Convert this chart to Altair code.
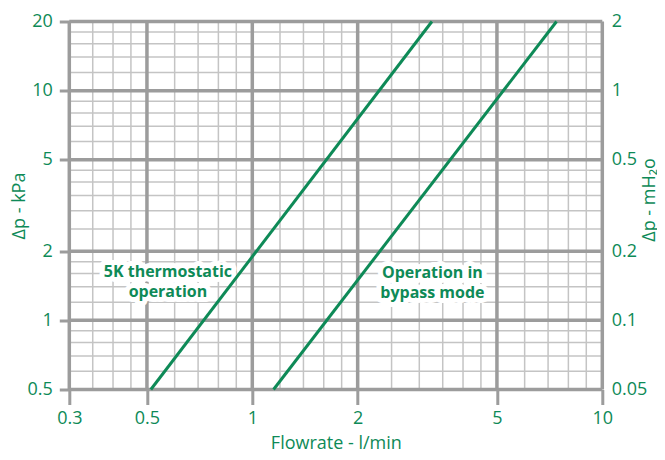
import altair as alt
import pandas as pd

GREEN = "#0e8a57"
MAJOR = "#9c9c9c"
MINOR = "#c4c4c4"
FONT = "Open Sans"

# Grid / tick values
x_major = [0.3, 0.5, 1, 2, 5, 10]
x_minor = [0.35, 0.4, 0.45, 0.6, 0.7, 0.8, 0.9, 1.2, 1.4, 1.6, 1.8,
           2.5, 3, 3.5, 4, 4.5, 6, 7, 8, 9]
y_major_kpa = [0.5, 1, 2, 5, 10, 20]
y_minor_kpa = [0.6, 0.7, 0.8, 0.9, 1.2, 1.4, 1.6, 1.8, 2.5, 3, 3.5, 4, 4.5,
               6, 7, 8, 9, 12, 14, 16, 18]
y_ticks_mh2o = [0.05, 0.1, 0.2, 0.5, 1, 2]

# Curves (flowrate l/min, pressure drop kPa)
thermo_flow = [0.513, 3.26]
thermo_dp = [0.5, 20]
bypass_flow = [1.15, 7.4]
bypass_dp = [0.5, 20]

# Curve labels
label_text = ["5K thermostatic\noperation", "Operation in\nbypass mode"]
label_flow = [0.574, 3.27]
label_dp = [1.62, 1.60]

curves = pd.DataFrame({
    "flow": thermo_flow + bypass_flow,
    "dp": thermo_dp + bypass_dp,
    "series": ["thermo"] * len(thermo_flow) + ["bypass"] * len(bypass_flow),
})
labels = pd.DataFrame({"text": label_text, "flow": label_flow, "dp": label_dp})

xscale = alt.Scale(type="log", domain=[0.3, 10], nice=False)
yscale = alt.Scale(type="log", domain=[0.5, 20], nice=False)

x_axis = alt.Axis(
    values=x_major, format="~g", grid=False, domain=False,
    ticks=True, tickSize=15, tickWidth=3, tickColor=MAJOR,
    labelColor=GREEN, labelFont=FONT, labelFontSize=18, labelPadding=5,
    labelFlush=False, labelOverlap=False,
    title="Flowrate - l/min", titleColor=GREEN, titleFont=FONT,
    titleFontSize=18, titleFontWeight="normal",
    titleX=266.5, titleY=54, titleAlign="center", titleBaseline="middle",
)
y_axis = alt.Axis(
    orient="left", values=y_major_kpa, format="~g", grid=False, domain=False,
    ticks=True, tickSize=10, tickWidth=3, tickColor=MAJOR,
    labelColor=GREEN, labelFont=FONT, labelFontSize=18, labelPadding=7,
    labelFlush=False, labelOverlap=False,
    title="Δp - kPa", titleColor=GREEN, titleFont=FONT,
    titleFontSize=18, titleFontWeight="normal",
    titleAngle=270, titleX=-50, titleY=184,
    titleAlign="center", titleBaseline="middle",
)
y2_axis = alt.Axis(
    orient="right", values=y_ticks_mh2o, format="~g", grid=False, domain=False,
    ticks=False, tickSize=0,
    labelColor=GREEN, labelFont=FONT, labelFontSize=18, labelPadding=9,
    labelFlush=False, labelOverlap=False,
    title="Δp - mH₂o", titleColor=GREEN, titleFont=FONT,
    titleFontSize=18, titleFontWeight="normal",
    titleAngle=270, titleX=47, titleY=178,
    titleAlign="center", titleBaseline="middle",
)

X = lambda f: alt.X(f, type="quantitative", scale=xscale, axis=x_axis)
Ynone = lambda f: alt.Y(f, type="quantitative", scale=yscale, axis=None)

v_minor = alt.Chart(pd.DataFrame({"v": x_minor})).mark_rule(
    color=MINOR, strokeWidth=1.5).encode(x=X("v"))
h_minor = alt.Chart(pd.DataFrame({"v": y_minor_kpa})).mark_rule(
    color=MINOR, strokeWidth=1.5).encode(y=Ynone("v"))
v_major = alt.Chart(pd.DataFrame({"v": x_major})).mark_rule(
    color=MAJOR, strokeWidth=3.5).encode(x=X("v"))
h_major = alt.Chart(pd.DataFrame({"v": y_major_kpa})).mark_rule(
    color=MAJOR, strokeWidth=3.5).encode(y=Ynone("v"))

halo = alt.Chart(labels).mark_text(
    font=FONT, fontSize=16, fontWeight="bold", lineBreak="\n", lineHeight=19.5,
    align="center", baseline="middle", color="white", stroke="white",
    strokeWidth=10, strokeJoin="round",
).encode(x=X("flow"), y=Ynone("dp"), text="text:N")

lines = alt.Chart(curves).mark_line(color=GREEN, strokeWidth=3).encode(
    x=X("flow"),
    y=alt.Y("dp:Q", scale=yscale, axis=y_axis),
    detail="series:N",
)

texts = alt.Chart(labels).mark_text(
    font=FONT, fontSize=16, fontWeight="bold", lineBreak="\n", lineHeight=19.5,
    align="center", baseline="middle", color=GREEN,
).encode(x=X("flow"), y=Ynone("dp"), text="text:N")

right_axis = alt.Chart(pd.DataFrame({"mh2o": y_ticks_mh2o})).mark_point(
    opacity=0).encode(
    y=alt.Y("mh2o:Q", scale=alt.Scale(type="log", domain=[0.05, 2], nice=False),
            axis=y2_axis)
)

chart = alt.layer(
    v_minor, h_minor, v_major, h_major, halo, lines, texts, right_axis
).resolve_scale(y="independent").properties(
    width=533, height=368,
    autosize=alt.AutoSizeParams(type="none"),
    padding={"left": 61.3, "top": 13.5, "right": 54.5, "bottom": 62},
).configure_view(strokeWidth=0)

chart.save("out.html", embed_options={"renderer": "svg", "actions": False})
